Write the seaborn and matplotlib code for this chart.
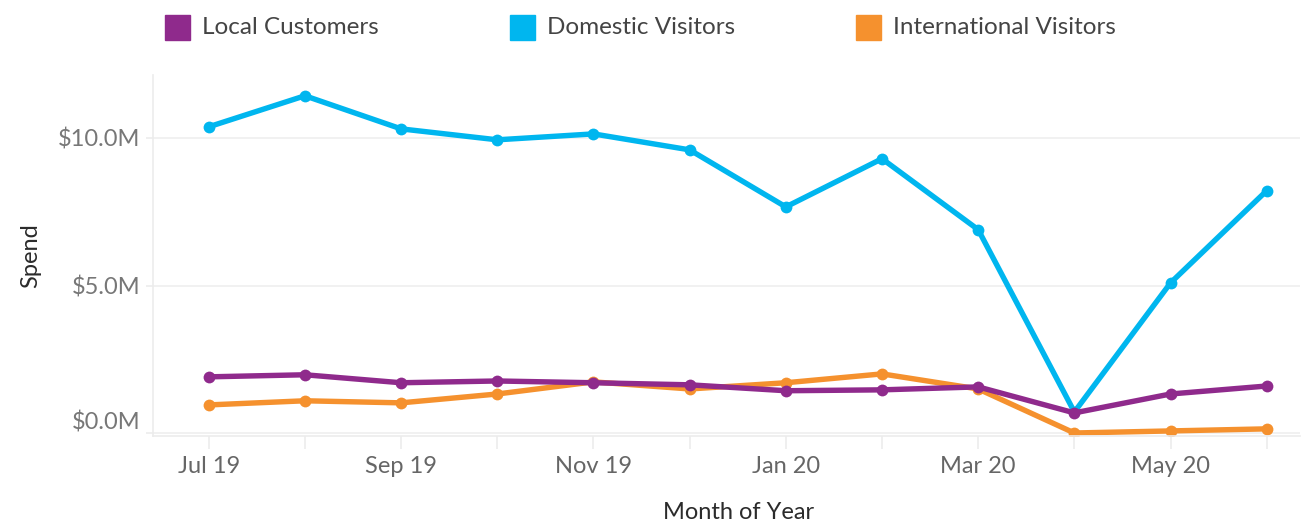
import numpy as np
import pandas as pd
import seaborn as sns
import matplotlib.pyplot as plt
from matplotlib.patches import Rectangle
from matplotlib.ticker import FuncFormatter

months = ["Jul 19", "Aug 19", "Sep 19", "Oct 19", "Nov 19", "Dec 19",
          "Jan 20", "Feb 20", "Mar 20", "Apr 20", "May 20", "Jun 20"]
series = ["Local Customers", "Domestic Visitors", "International Visitors"]

# spend in $M
local = [1.91, 1.98, 1.71, 1.77, 1.71, 1.64, 1.44, 1.47, 1.57, 0.69, 1.33, 1.60]
domestic = [10.37, 11.42, 10.30, 9.93, 10.13, 9.59, 7.66, 9.29, 6.89, 0.72, 5.09, 8.21]
international = [0.96, 1.10, 1.03, 1.33, 1.74, 1.50, 1.71, 2.01, 1.50, 0.01, 0.08, 0.15]

colors = {"Local Customers": "#8f2a8c",
          "Domestic Visitors": "#00b6ef",
          "International Visitors": "#f5912e"}

df = pd.DataFrame({
    "month": list(range(len(months))) * 3,
    "spend": local + domestic + international,
    "series": np.repeat(series, len(months)),
})

sns.set_theme(style="white")
plt.rcParams["font.family"] = ["Lato", "DejaVu Sans"]

fig = plt.figure(figsize=(13.03, 5.23), dpi=100)
ax = fig.add_axes([0.1174, 0.167, 0.8806, 0.69])

# draw domestic first, then international, then local on top
for name in ["Domestic Visitors", "International Visitors", "Local Customers"]:
    sub = df[df["series"] == name]
    sns.lineplot(data=sub, x="month", y="spend", color=colors[name],
                 linewidth=3.9, marker="o", markersize=8.5,
                 markeredgewidth=0, ax=ax, legend=False)

ax.set_xlim(-0.58, 11.35)
ax.set_ylim(-0.08, 12.13)

ax.set_yticks([0, 5, 10])
ax.yaxis.set_major_formatter(FuncFormatter(lambda v, p: f"${v:.1f}M"))
ax.set_xticks(range(len(months)))
ax.set_xticklabels([m if i % 2 == 0 else "" for i, m in enumerate(months)])

ax.grid(axis="y", color="#efefef", linewidth=1.2)
ax.grid(axis="x", visible=False)
for s in ["top", "right"]:
    ax.spines[s].set_visible(False)
ax.spines["left"].set_color("#ececec")
ax.spines["bottom"].set_color("#ececec")
ax.spines["left"].set_linewidth(1.2)
ax.spines["bottom"].set_linewidth(1.2)

ax.tick_params(axis="y", colors="#ececec", labelcolor="#777777",
               labelsize=17, length=5, width=1.2, pad=4, left=True)
ax.tick_params(axis="x", colors="#ececec", labelcolor="#666666",
               labelsize=17, length=9, width=1.2, pad=6, bottom=True)
# lift the zero label above the axis line as in the original
lbl0 = ax.yaxis.get_majorticklabels()[0]
lbl0.set_verticalalignment("bottom")

ax.set_xlabel("Month of Year", fontsize=17, color="#2b2b2b")
ax.set_ylabel("Spend", fontsize=17, color="#2b2b2b")
ax.xaxis.set_label_coords(0.51, -0.184)
ax.yaxis.set_label_coords(-0.097, 0.5)

# legend across the top
legend_x = [165, 510, 856]
for x, name in zip(legend_x, series):
    fig.add_artist(Rectangle((x / 1303, 1 - 40 / 523), 25 / 1303, 25 / 523,
                             transform=fig.transFigure, color=colors[name]))
    fig.text((x + 37) / 1303, 1 - 27 / 523, name, fontsize=17.5,
             color="#444444", va="center", ha="left")

fig.savefig("out.png", dpi=100)
